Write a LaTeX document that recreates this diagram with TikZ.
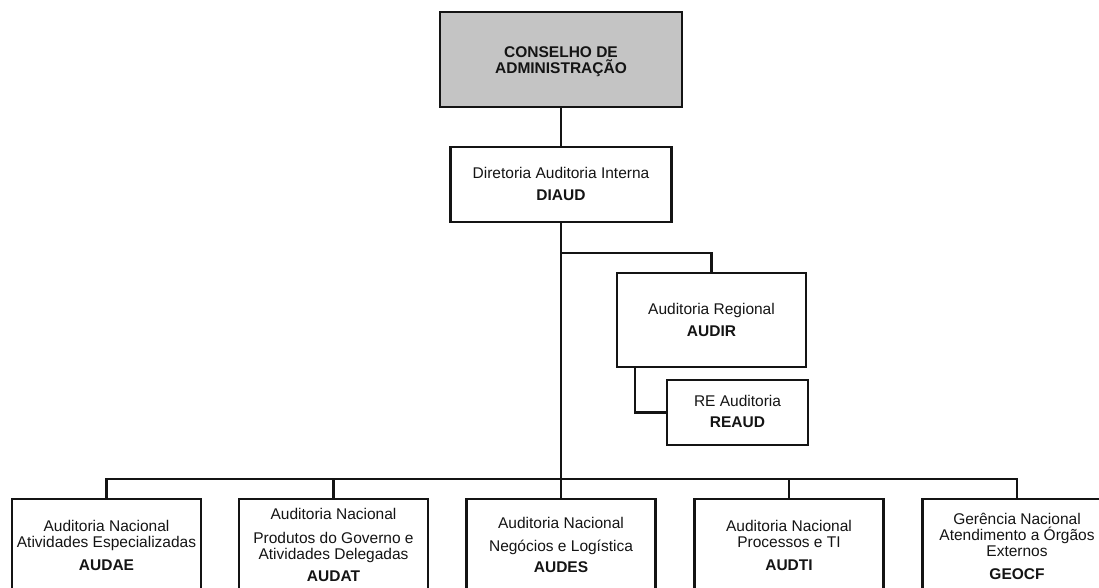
\documentclass[tikz,border=0pt]{standalone}
\usepackage{fontspec}
\setmainfont{Liberation Sans}
\definecolor{boxgray}{RGB}{196,196,196}
\definecolor{ink}{RGB}{20,20,20}
\begin{document}
\begin{tikzpicture}[x=1pt,y=-1pt,
  box/.style={draw=ink, line width=2.3pt, rectangle, inner sep=0pt},
  lbl/.style={align=center, anchor=north, inner sep=0pt, font=\fontsize{15.5}{16}\selectfont, text=ink},
  conn/.style={draw=ink, line width=2.3pt}]
\useasboundingbox (0,0) rectangle (1099,588);
\clip (0,0) rectangle (1099,588);

% boxes
\node[box, fill=boxgray, minimum width=242pt, minimum height=95pt] (cons) at (561,59.5) {};
\node[box, minimum width=221pt, minimum height=75pt] (dir) at (561,184.5) {};
\node[box, minimum width=189pt, minimum height=94pt] (audir) at (711.5,320) {};
\node[box, minimum width=141pt, minimum height=65pt] (reaud) at (737.5,412.5) {};
\node[box, minimum width=189pt, minimum height=141pt] (audae) at (106.5,569.5) {};
\node[box, minimum width=189pt, minimum height=141pt] (audat) at (333.5,569.5) {};
\node[box, minimum width=189pt, minimum height=141pt] (audes) at (561,569.5) {};
\node[box, minimum width=189pt, minimum height=141pt] (audti) at (789,569.5) {};
\node[box, minimum width=189pt, minimum height=141pt] (geocf) at (1017,569.5) {};

% labels
\node[lbl, font=\fontsize{15.5}{16}\selectfont\bfseries] (tcons) at (561,45.3)
  {\rule{0pt}{12pt}CONSELHO DE\\ADMINISTRAÇÃO};
\node[lbl] (tdir) at (561,166.3)
  {\rule{0pt}{12pt}Diretoria Auditoria Interna\\[6pt]\textbf{DIAUD}};
\node[lbl] (taudir) at (711.5,302.3)
  {\rule{0pt}{12pt}Auditoria Regional\\[6pt]\textbf{AUDIR}};
\node[lbl] (treaud) at (737.5,394.3)
  {\rule{0pt}{12pt}RE Auditoria\\[5pt]\textbf{REAUD}};
\node[lbl] (taudae) at (106.5,519.3)
  {\rule{0pt}{12pt}Auditoria Nacional\\Atividades Especializadas\\[7pt]\textbf{AUDAE}};
\node[lbl] (taudat) at (333.5,507.3)
  {\rule{0pt}{12pt}Auditoria Nacional\\[8pt]Produtos do Governo e\\Atividades Delegadas\\[6pt]\textbf{AUDAT}};
\node[lbl] (taudes) at (561,516.3)
  {\rule{0pt}{12pt}Auditoria Nacional\\[7pt]Negócios e Logística\\[5pt]\textbf{AUDES}};
\node[lbl] (taudti) at (789,519.3)
  {\rule{0pt}{12pt}Auditoria Nacional\\Processos e TI\\[7pt]\textbf{AUDTI}};
\node[lbl] (tgeocf) at (1017,512.3)
  {\rule{0pt}{12pt}Gerência Nacional\\Atendimento a Órgãos\\Externos\\[7pt]\textbf{GEOCF}};

% junction points
\coordinate (br) at (561,253);
\coordinate (bus) at (561,479);

% connectors
\draw[conn] (cons.south) -- (dir.north);
\draw[conn] (dir.south) -- (bus);
\draw[conn] (br) -| (audir.north);
\draw[conn] ([xshift=19pt]audir.south west) |- (reaud.west);
\draw[conn] (audae.north) |- (bus) -| (geocf.north);
\draw[conn] (audat.north) -- (audat.north |- bus);
\draw[conn] (audes.north) -- (bus);
\draw[conn] (audti.north) -- (audti.north |- bus);
\end{tikzpicture}
\end{document}
